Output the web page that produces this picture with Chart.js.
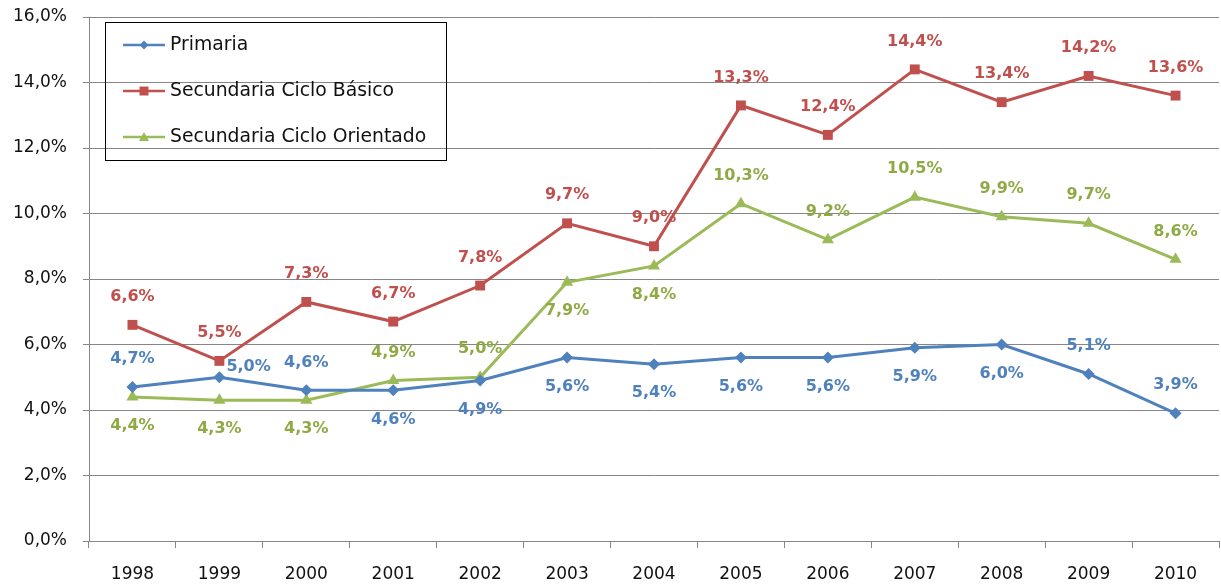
<!DOCTYPE html>
<html>
<head>
<meta charset="utf-8">
<script src="https://cdn.jsdelivr.net/npm/chart.js@4.4.0/dist/chart.umd.min.js"></script>
<style>
  html, body { margin: 0; padding: 0; background: #fff; overflow: hidden; }
  #wrap { position: relative; width: 1226px; height: 584px; }
</style>
</head>
<body>
<div id="wrap"><canvas id="chart"></canvas></div>
<script>
// data
const years = ["1998", "1999", "2000", "2001", "2002", "2003", "2004", "2005", "2006", "2007", "2008", "2009", "2010"];
const primaria = [4.7, 5.0, 4.6, 4.6, 4.9, 5.6, 5.4, 5.6, 5.6, 5.9, 6.0, 5.1, 3.9];
const cicloBasico = [6.6, 5.5, 7.3, 6.7, 7.8, 9.7, 9.0, 13.3, 12.4, 14.4, 13.4, 14.2, 13.6];
const cicloOrientado = [4.4, 4.3, 4.3, 4.9, 5.0, 7.9, 8.4, 10.3, 9.2, 10.5, 9.9, 9.7, 8.6];
const yTicks = [0, 2, 4, 6, 8, 10, 12, 14, 16];

const FONT = "'DejaVu Sans', sans-serif";

function pct(v) {
  return v.toFixed(1).replace(".", ",") + "%";
}

// where each value label sits relative to its point
const labelPlacement = [
  ["a", "r", "a", "b", "b", "b", "b", "b", "b", "b", "b", "a", "a"],
  ["a", "a", "a", "a", "a", "a", "a", "a", "a", "a", "a", "a", "a"],
  ["b", "b", "b", "a", "a", "b", "b", "a", "a", "a", "a", "a", "a"],
];

const valueLabels = {
  id: "valueLabels",
  afterDatasetsDraw(chart) {
    const ctx = chart.ctx;
    ctx.save();
    ctx.font = "bold 16px " + FONT;
    ctx.textBaseline = "middle";
    chart.data.datasets.forEach((ds, i) => {
      const meta = chart.getDatasetMeta(i);
      ctx.fillStyle = ds.labelColor;
      meta.data.forEach((pt, j) => {
        const pos = labelPlacement[i][j];
        let x = pt.x, y = pt.y;
        ctx.textAlign = "center";
        if (pos === "a") y -= 28;
        else if (pos === "b") y += 29;
        else { ctx.textAlign = "left"; x += 7; y -= 10; }
        ctx.fillText(pct(ds.data[j]), x, y);
      });
    });
    ctx.restore();
  },
};

// boxed legend in the top-left corner of the plot
const boxLegend = {
  id: "boxLegend",
  afterDraw(chart) {
    const ctx = chart.ctx;
    ctx.save();
    ctx.strokeStyle = "#000";
    ctx.lineWidth = 1;
    ctx.strokeRect(105.5, 22.5, 341, 138);
    ctx.font = "18.8px " + FONT;
    ctx.textBaseline = "middle";
    ctx.textAlign = "left";
    chart.data.datasets.forEach((ds, i) => {
      const y = 45 + i * 46;
      ctx.strokeStyle = ds.borderColor;
      ctx.lineWidth = 2.5;
      ctx.beginPath();
      ctx.moveTo(123, y);
      ctx.lineTo(165, y);
      ctx.stroke();
      ctx.fillStyle = ds.borderColor;
      ctx.beginPath();
      if (ds.pointStyle === "rectRot") {
        ctx.moveTo(144, y - 4.5); ctx.lineTo(148.5, y); ctx.lineTo(144, y + 4.5); ctx.lineTo(139.5, y);
      } else if (ds.pointStyle === "rect") {
        ctx.rect(139.5, y - 4.5, 9, 9);
      } else {
        ctx.moveTo(144, y - 5); ctx.lineTo(149, y + 4); ctx.lineTo(139, y + 4);
      }
      ctx.closePath();
      ctx.fill();
      ctx.fillStyle = "#111";
      ctx.fillText(ds.label, 170, y);
    });
    ctx.restore();
  },
};

new Chart(document.getElementById("chart"), {
  type: "line",
  data: {
    labels: years,
    datasets: [
      {
        label: "Primaria",
        data: primaria,
        borderColor: "#4F81BD",
        backgroundColor: "#4F81BD",
        labelColor: "#4F81BD",
        pointStyle: "rectRot",
        pointRadius: 6,
      },
      {
        label: "Secundaria Ciclo Básico",
        data: cicloBasico,
        borderColor: "#C0504D",
        backgroundColor: "#C0504D",
        labelColor: "#C0504D",
        pointStyle: "rect",
        pointRadius: 7,
      },
      {
        label: "Secundaria Ciclo Orientado",
        data: cicloOrientado,
        borderColor: "#9BBB59",
        backgroundColor: "#9BBB59",
        labelColor: "#8FAA45",
        pointStyle: "triangle",
        pointRadius: 7,
      },
    ],
  },
  options: {
    responsive: true,
    maintainAspectRatio: false,
    animation: false,
    layout: { padding: { top: 17, right: 1, left: 0, bottom: 0 } },
    elements: {
      line: { borderWidth: 3, tension: 0 },
      point: { borderWidth: 0, hoverRadius: 6 },
    },
    plugins: {
      legend: { display: false },
      tooltip: { enabled: false },
    },
    scales: {
      x: {
        offset: true,
        grid: { offset: true, drawOnChartArea: false, drawTicks: true, tickLength: 7, color: "#868686" },
        border: { color: "#868686" },
        ticks: { color: "#111", padding: 16, font: { family: FONT, size: 17 } },
        afterFit(scale) { scale.height = 43; },
      },
      y: {
        min: 0,
        max: 16,
        afterBuildTicks(scale) { scale.ticks = yTicks.map((v) => ({ value: v })); },
        grid: { color: "#868686", tickLength: 6, lineWidth: 1 },
        border: { color: "#868686" },
        ticks: {
          color: "#111",
          padding: 16,
          font: { family: FONT, size: 17 },
          callback: (v) => pct(v),
        },
        afterFit(scale) {
          scale.width = 89;
          scale.paddingTop = 0;
          scale.paddingBottom = 0;
        },
      },
    },
  },
  plugins: [valueLabels, boxLegend],
});
</script>
</body>
</html>
